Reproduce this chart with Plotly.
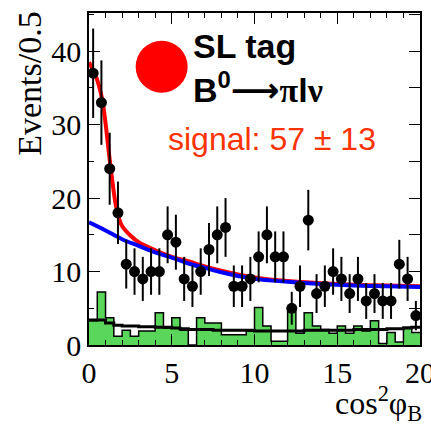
import numpy as np
import plotly.graph_objects as go

# ---- data ----
bin_edges = [i * 0.5 for i in range(41)]
bin_centers = [0.25 + i * 0.5 for i in range(40)]
data_counts = [37, 33, 24, 18, 11, 10, 9, 10, 10, 15,
               14, 9, 8, 10, 13, 15, 16, 8, 8, 9,
               12, 15, 12, 12, 5, 8, 17, 7, 8, 10,
               9, 7, 9, 6, 7, 6, 6, 11, 9, 4]
green_hist = [3.3, 7.2, 3.7, 1.2, 2.0, 1.2, 1.9, 1.9, 4.4, 2.3,
              3.7, 2.0, 0.0, 3.7, 3.0, 3.0, 1.4, 1.4, 1.4, 1.9,
              5.1, 2.6, 0.5, 0.5, 4.7, 1.6, 4.4, 2.6, 2.1, 1.6,
              2.6, 1.6, 2.6, 1.9, 3.3, 0.2, 1.7, 0.4, 2.4, 1.7]
black_hist = [3.4, 3.4, 3.0, 2.7, 2.6, 2.6, 2.5, 2.5, 2.4, 2.4,
              2.3, 2.2, 2.1, 2.1, 2.1, 2.0, 2.0, 2.0, 2.0, 2.0,
              1.9, 1.9, 1.9, 1.9, 1.9, 1.9, 2.0, 2.0, 2.0, 2.0,
              2.0, 2.0, 2.1, 2.1, 2.1, 2.1, 2.2, 2.2, 2.3, 2.4]
red_x = [0, 0.2, 0.4, 0.6, 0.8, 1.0, 1.2, 1.4, 1.6, 1.8, 2.0, 2.5, 3.0,
         4.0, 5.0, 6.0, 7.0, 8.0, 9.0, 10, 12, 14, 16, 18, 20]
red_y = [38.5, 37.6, 36.7, 35.3, 33.4, 30.2, 26.2, 22.5, 19.3, 17.3, 16.2,
         14.9, 14.0, 12.9, 12.0, 11.4, 10.7, 10.1, 9.6, 9.2, 8.7, 8.4,
         8.2, 8.1, 8.0]
blue_x = [0, 1, 2, 3, 4, 5, 6, 7, 8, 9, 10, 12, 14, 16, 18, 20]
blue_y = [16.7, 15.6, 14.4, 13.5, 12.6, 11.9, 11.1, 10.5, 9.9, 9.4, 9.0,
          8.6, 8.3, 8.1, 8.0, 7.9]
x_ticks = [0, 5, 10, 15, 20]
y_ticks = [0, 10, 20, 30, 40]
x_range = [0, 20]
y_range = [0, 45.2]

errs = [float(np.sqrt(c)) for c in data_counts]

fig = go.Figure()

fig.add_trace(go.Scatter(
    x=bin_edges, y=green_hist + [green_hist[-1]], mode="lines",
    line=dict(shape="hv", color="black", width=1.5),
    fill="tozeroy", fillcolor="#5ad75a", hoverinfo="skip"))
fig.add_trace(go.Scatter(
    x=bin_edges, y=black_hist + [black_hist[-1]], mode="lines",
    line=dict(shape="hv", color="black", width=3), hoverinfo="skip"))
fig.add_trace(go.Scatter(
    x=red_x, y=red_y, mode="lines",
    line=dict(color="#ff0000", width=4, shape="spline")))
fig.add_trace(go.Scatter(
    x=blue_x, y=blue_y, mode="lines",
    line=dict(color="#0000ff", width=4, shape="spline")))
fig.add_trace(go.Scatter(
    x=bin_centers, y=data_counts, mode="markers",
    marker=dict(color="black", size=11),
    error_y=dict(type="data", array=errs, color="black", thickness=2, width=0)))
# invisible trace for the mirrored (top/right) tick axes
fig.add_trace(go.Scatter(x=x_range, y=y_range, xaxis="x2", yaxis="y2",
                         mode="markers", marker=dict(opacity=0), hoverinfo="skip"))

tickfont = dict(family="Liberation Serif", size=30, color="black")
common = dict(ticks="inside", ticklen=11, tickwidth=1.2, tickcolor="black",
              showgrid=False, zeroline=False, automargin=False)
fig.update_layout(
    xaxis=dict(range=x_range, tickvals=x_ticks, showline=True, linecolor="black",
               linewidth=1.5, mirror=True, tickfont=tickfont,
               ticklabeloverflow="allow", domain=[0, 1],
               minor=dict(dtick=1, ticks="inside", ticklen=5, tickcolor="black",
                          tickwidth=1.2, showgrid=False), **common),
    yaxis=dict(range=y_range, tickvals=y_ticks, showline=True, linecolor="black",
               linewidth=1.5, mirror=True, tickfont=tickfont,
               ticklabeloverflow="allow", domain=[0, 1],
               minor=dict(dtick=5, ticks="inside", ticklen=5, tickcolor="black",
                          tickwidth=1.2, showgrid=False), **common),
    xaxis2=dict(range=x_range, tickvals=x_ticks, overlaying="x", side="top",
                showticklabels=False, anchor="y2", domain=[0, 1],
                minor=dict(dtick=1, ticks="inside", ticklen=5, tickcolor="black",
                           tickwidth=1.2, showgrid=False), **common),
    yaxis2=dict(range=y_range, tickvals=y_ticks, overlaying="y", side="right",
                showticklabels=False, anchor="x2", domain=[0, 1],
                minor=dict(dtick=5, ticks="inside", ticklen=11, tickcolor="black",
                           tickwidth=1.2, showgrid=False), **common),
)

fig.add_shape(type="circle", xref="paper", yref="paper",
              x0=0.141, x1=0.298, y0=0.760, y1=0.9166,
              fillcolor="#ff0000", line=dict(color="#ff0000", width=0))

fig.add_annotation(text="<b>SL tag</b>", xref="paper", yref="paper",
                   x=0.308, y=0.965, xanchor="left", yanchor="top", showarrow=False,
                   font=dict(family="Liberation Sans", size=34, color="black"))
fig.add_annotation(
    text="<b>B<sup>0</sup><span style='font-family:DejaVu Sans'>⟶</span>"
         "<span style='font-family:Liberation Serif'>π</span>l"
         "<span style='font-family:Liberation Serif'>ν</span></b>",
    xref="paper", yref="paper",
    x=0.308, y=0.845, xanchor="left", yanchor="top", showarrow=False,
    font=dict(family="Liberation Sans", size=34, color="black"))
fig.add_annotation(text="signal: 57 ± 13", xref="paper", yref="paper",
                   x=0.232, y=0.68, xanchor="left", yanchor="top", showarrow=False,
                   font=dict(family="Liberation Sans", size=32, color="#ff3300"))
fig.add_annotation(text="Events/0.5", xref="paper", yref="paper",
                   x=-0.178, y=1.01, xanchor="center", yanchor="top", textangle=-90,
                   showarrow=False,
                   font=dict(family="Liberation Serif", size=34, color="black"))
fig.add_annotation(text="cos<sup>2</sup>φ<sub>B</sub>", xref="paper", yref="paper",
                   x=1.012, y=-0.103, xanchor="right", yanchor="top", showarrow=False,
                   font=dict(family="Liberation Serif", size=32, color="black"))

fig.update_layout(width=431, height=430, showlegend=False,
                  margin=dict(l=89, r=11, t=13, b=85, autoexpand=False),
                  paper_bgcolor="white", plot_bgcolor="white")
fig.write_html("out.html")
